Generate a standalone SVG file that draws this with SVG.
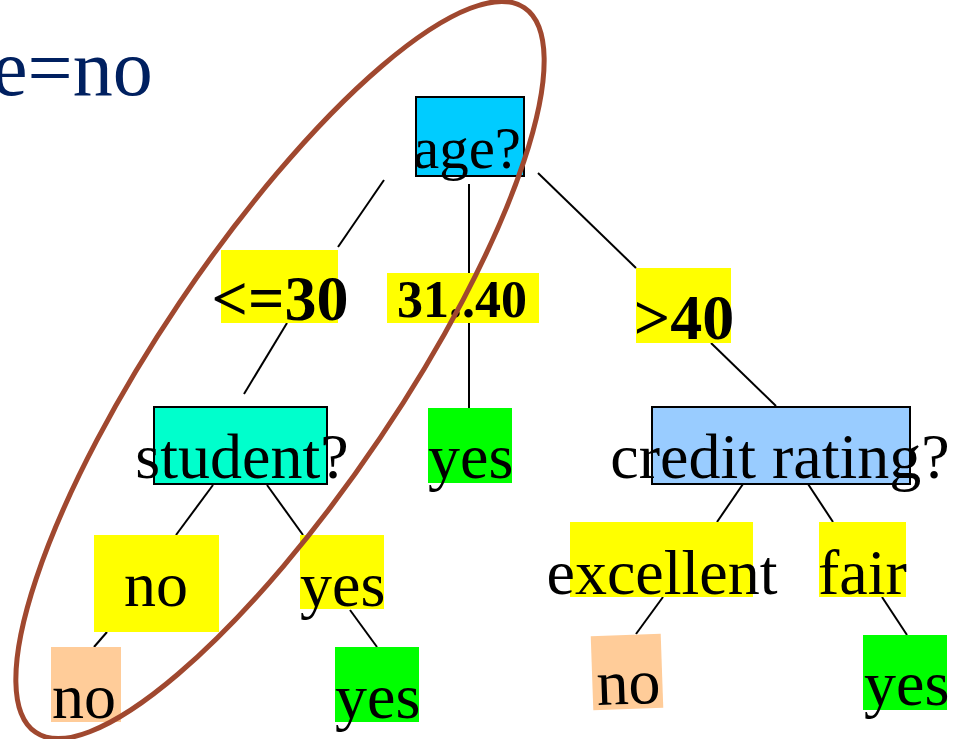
<svg xmlns="http://www.w3.org/2000/svg" width="963" height="739" viewBox="0 0 963 739">
<style>
.t{font-family:"Liberation Serif","Times New Roman",serif;font-size:64px;fill:#000}
.b{font-weight:bold}
.e{stroke:#000;stroke-width:2;fill:none}
.box{stroke:#000;stroke-width:2}
.y{fill:#FFFF00}
.g{fill:#00FF00}
.p{fill:#FFCC99}
</style>
<rect width="963" height="739" fill="#fff"/>
<text x="-8" y="95" class="t" style="font-size:80px;fill:#002060">e=no</text>
<g id="connectors">
<line class="e" x1="384" y1="180" x2="338" y2="247"/>
<line class="e" x1="469" y1="184" x2="469" y2="408"/>
<line class="e" x1="538" y1="173" x2="636" y2="268"/>
<line class="e" x1="287" y1="323" x2="244" y2="394"/>
<line class="e" x1="711" y1="343" x2="776" y2="406"/>
<line class="e" x1="213" y1="485" x2="176" y2="535"/>
<line class="e" x1="267" y1="485" x2="303" y2="535"/>
<line class="e" x1="107" y1="632" x2="94" y2="647"/>
<line class="e" x1="350" y1="610" x2="377" y2="647"/>
<line class="e" x1="743" y1="484" x2="717" y2="522"/>
<line class="e" x1="808" y1="484" x2="833" y2="522"/>
<line class="e" x1="663" y1="597" x2="636" y2="634"/>
<line class="e" x1="882" y1="597" x2="907" y2="635"/>
</g>
<g id="age">
<rect class="box" x="416" y="97" width="108" height="79" fill="#00CCFF"/>
<text class="t" x="467" y="168" text-anchor="middle" style="font-size:59px">age?</text>
</g>
<g id="le30">
<rect class="y" x="221" y="250" width="117" height="73"/>
<text class="t b" x="280" y="320" text-anchor="middle">&lt;=30</text>
</g>
<g id="r31_40">
<rect class="y" x="387" y="273" width="152" height="50"/>
<text class="t b" x="462" y="317" text-anchor="middle" style="font-size:52px">31..40</text>
</g>
<g id="gt40">
<rect class="y" x="636" y="268" width="95" height="75"/>
<text class="t b" x="684" y="339" text-anchor="middle">&gt;40</text>
</g>
<g id="student">
<rect class="box" x="154" y="407" width="173" height="77" fill="#00FFCC"/>
<text class="t" x="242" y="478" text-anchor="middle">student?</text>
</g>
<g id="yes_mid">
<rect class="g" x="428" y="408" width="84" height="75"/>
<text class="t" x="428" y="478">yes</text>
</g>
<g id="credit">
<rect class="box" x="652" y="407" width="258" height="77" fill="#99CCFF"/>
<text class="t" x="780" y="478" text-anchor="middle">credit rating?</text>
</g>
<g id="no_label">
<rect class="y" x="94" y="535" width="125" height="97"/>
<text class="t" x="156" y="606" text-anchor="middle">no</text>
</g>
<g id="yes_label">
<rect class="y" x="300" y="535" width="84" height="74"/>
<text class="t" x="300" y="606">yes</text>
</g>
<g id="excellent">
<rect class="y" x="570" y="522" width="183" height="75"/>
<text class="t" x="662" y="594" text-anchor="middle">excellent</text>
</g>
<g id="fair">
<rect class="y" x="819" y="522" width="87" height="75"/>
<text class="t" x="818" y="594">fair</text>
</g>
<g id="leaf_no_left">
<rect class="p" x="51" y="647" width="70" height="75"/>
<text class="t" x="52" y="718">no</text>
</g>
<g id="leaf_yes_left">
<rect class="g" x="335" y="647" width="84" height="75"/>
<text class="t" x="335" y="718">yes</text>
</g>
<g id="leaf_no_right" transform="rotate(-2 627 672)">
<rect class="p" x="592" y="635" width="70" height="74"/>
<text class="t" x="596" y="704">no</text>
</g>
<g id="leaf_yes_right">
<rect class="g" x="863" y="635" width="84" height="75"/>
<text class="t" x="864" y="705">yes</text>
</g>
<ellipse cx="280" cy="370" rx="437" ry="121" transform="rotate(-56 280 370)" fill="none" stroke="#A0482F" stroke-width="5"/>
</svg>
